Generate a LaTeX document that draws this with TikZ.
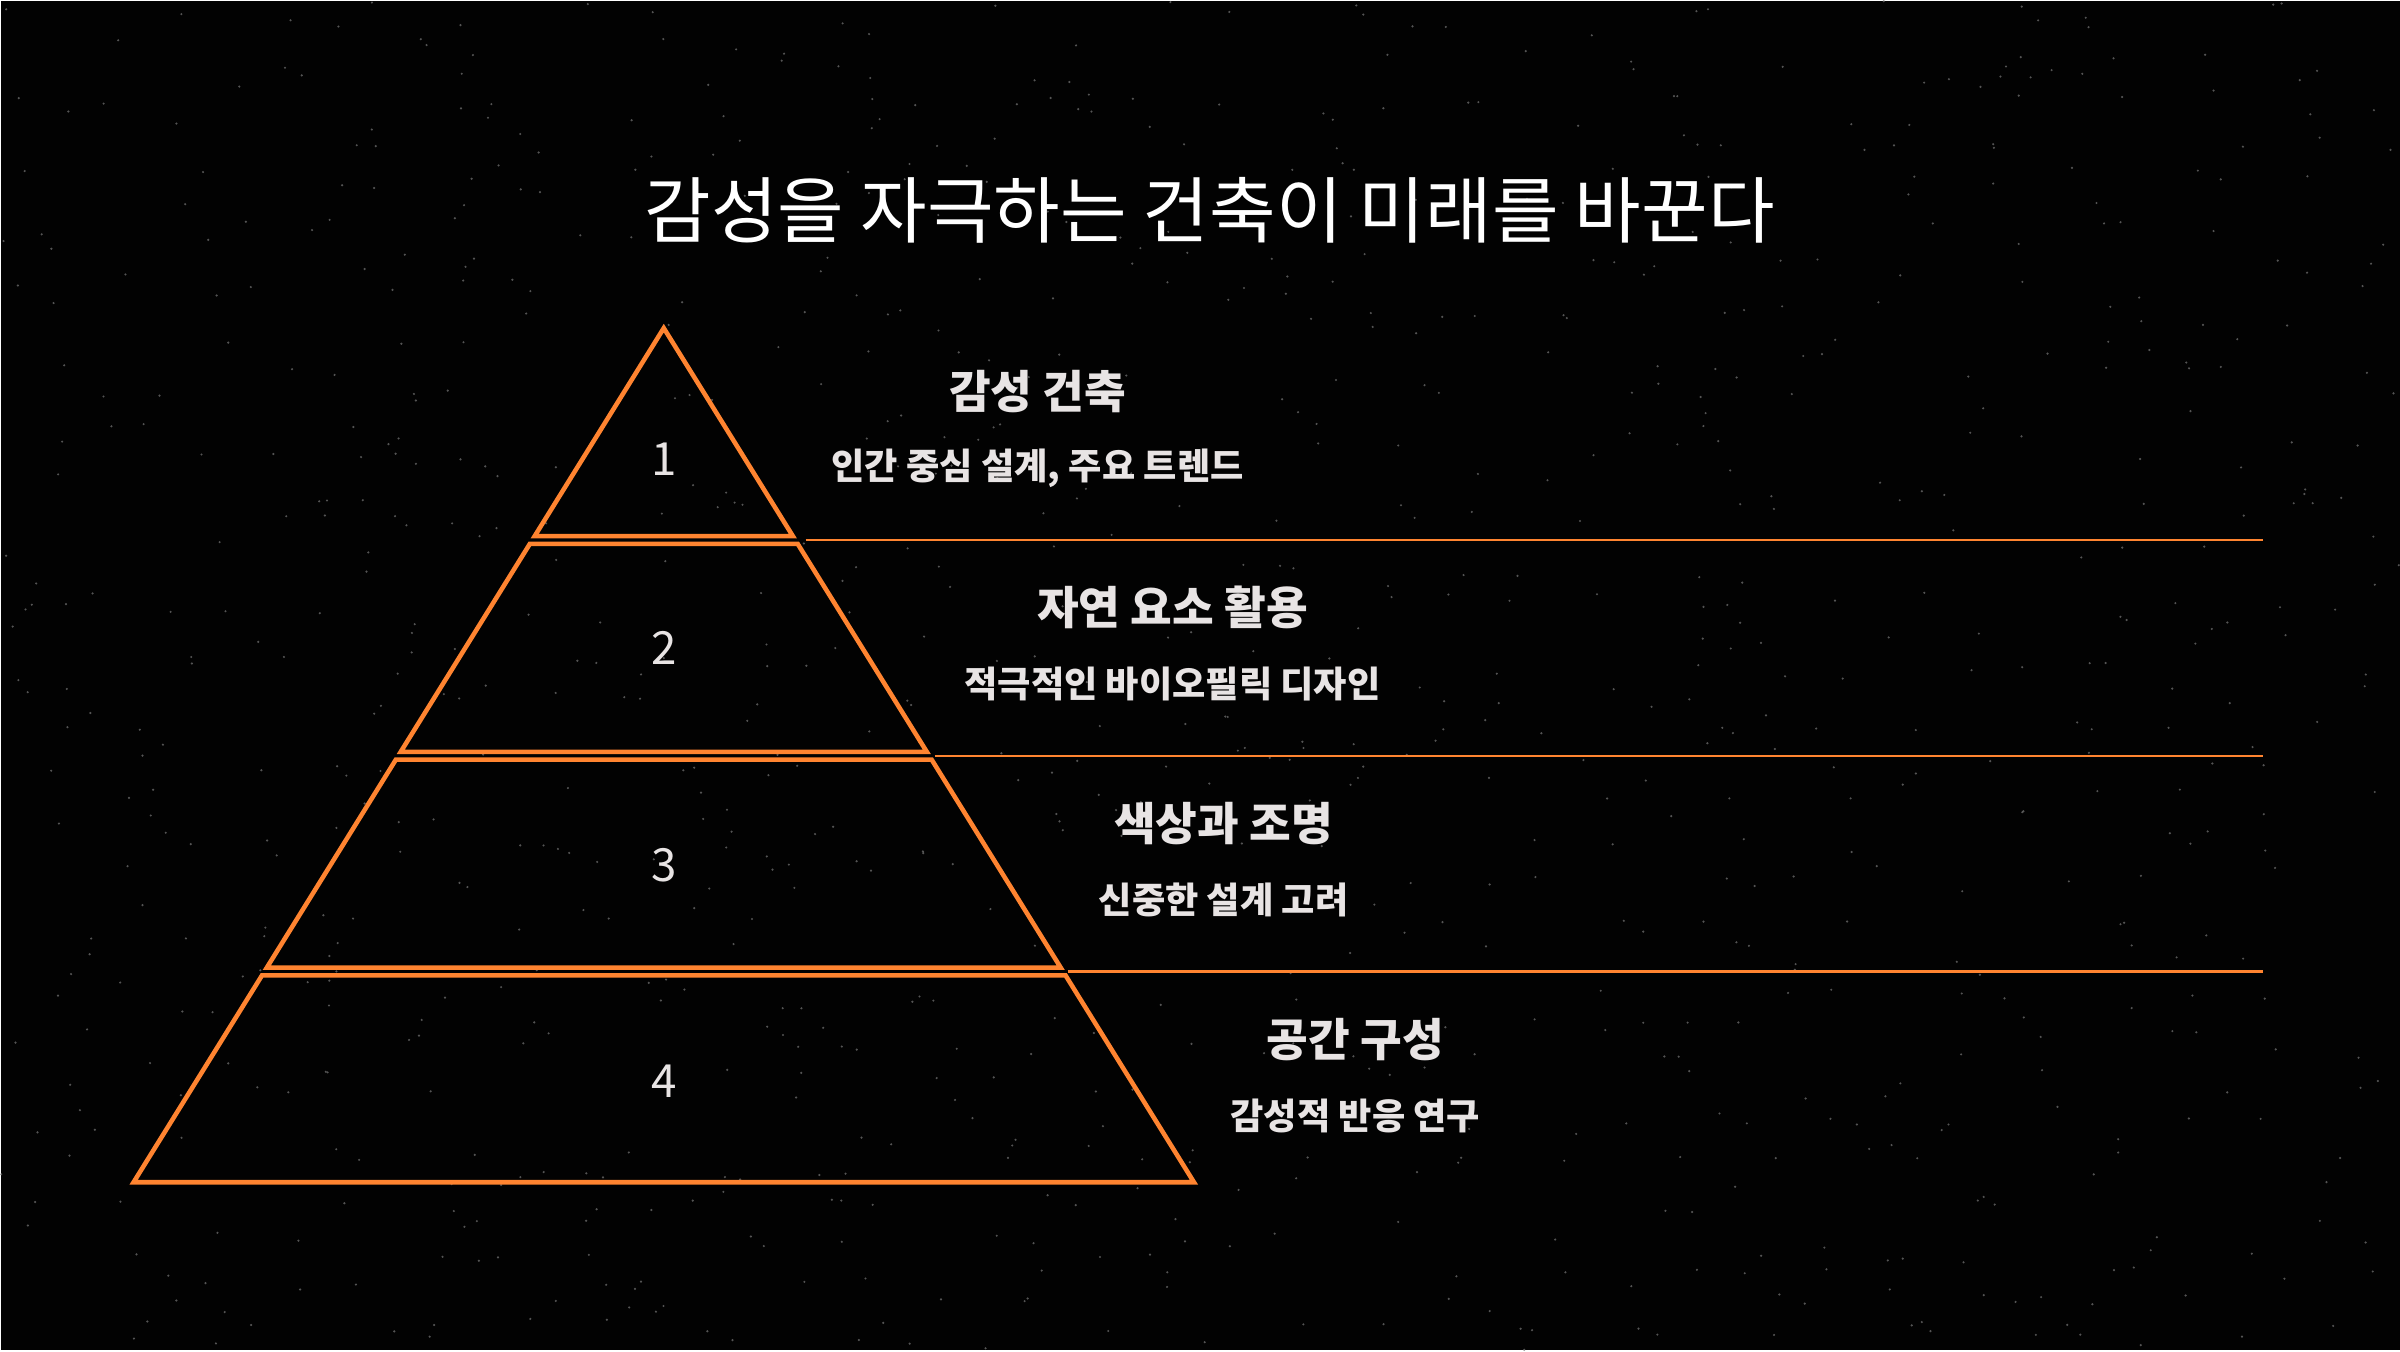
\documentclass[tikz,border=0pt]{standalone}
\usepackage{fontspec}
\usepackage{xcolor}
\setmainfont{Noto Sans CJK KR}
\newfontfamily\krfont{Noto Sans CJK KR}
\definecolor{bgblack}{RGB}{2, 2, 2}
\definecolor{tierorange}{RGB}{255, 132, 48}
\definecolor{textgray}{RGB}{232, 228, 228}
\definecolor{speckgray}{RGB}{120, 120, 120}

\tikzset{
    tier/.style={draw=tierorange, line width=1.3pt, line join=miter},
    divider/.style={draw=tierorange, line width=0.6pt},
    tiernum/.style={text=textgray, inner sep=0pt, font=\krfont\fontsize{13}{15}\selectfont},
    tierlabel/.style={text=textgray, inner sep=0pt, font=\krfont\bfseries\fontsize{12.9}{15}\selectfont},
    tiersub/.style={text=textgray, inner sep=0pt, font=\krfont\bfseries\fontsize{10.3}{12}\selectfont}
}

\begin{document}
\begin{tikzpicture}
        % background and specks
        \fill[bgblack] (0,0) rectangle (24,13.5);
        \pgfmathsetseed{7}
        \foreach \i in {1,...,1000} {
            \fill[speckgray,opacity=0.7] ({24*rnd},{13.5*rnd}) circle (0.012);
        }

        % title
        \node[white, inner sep=0pt, font=\krfont\fontsize{20.6}{24}\selectfont] (title) at (12.09,11.40) {감성을 자극하는 건축이 미래를 바꾼다};

        % pyramid corners
        \coordinate (apex) at (6.63,10.225);
        \coordinate (t1bl) at (5.338,8.143);  \coordinate (t1br) at (7.922,8.143);
        \coordinate (t2tl) at (5.290,8.066);  \coordinate (t2tr) at (7.970,8.066);
        \coordinate (t2bl) at (3.998,5.985);  \coordinate (t2br) at (9.262,5.985);
        \coordinate (t3tl) at (3.950,5.908);  \coordinate (t3tr) at (9.310,5.908);
        \coordinate (t3bl) at (2.659,3.827);  \coordinate (t3br) at (10.601,3.827);
        \coordinate (t4tl) at (2.611,3.750);  \coordinate (t4tr) at (10.649,3.750);
        \coordinate (t4bl) at (1.326,1.680);  \coordinate (t4br) at (11.934,1.680);

        % pyramid tiers
        \draw[tier] (apex) -- (t1br) -- (t1bl) -- cycle;
        \draw[tier] (t2tl) -- (t2tr) -- (t2br) -- (t2bl) -- cycle;
        \draw[tier] (t3tl) -- (t3tr) -- (t3br) -- (t3bl) -- cycle;
        \draw[tier] (t4tl) -- (t4tr) -- (t4br) -- (t4bl) -- cycle;

        % tier numbers
        \node[tiernum] (num1) at (6.63,8.91) {1};
        \node[tiernum] (num2) at (6.63,7.03) {2};
        \node[tiernum] (num3) at (6.63,4.85) {3};
        \node[tiernum] (num4) at (6.63,2.69) {4};

        % dividers
        \coordinate (div1) at (8.05,8.105);  \coordinate (div1end) at (22.63,8.105);
        \coordinate (div2) at (9.34,5.946);  \coordinate (div2end) at (22.63,5.946);
        \coordinate (div3) at (10.67,3.788); \coordinate (div3end) at (22.63,3.788);
        \draw[divider] (div1) -- (div1end);
        \draw[divider] (div2) -- (div2end);
        \draw[divider] (div3) -- (div3end);

        % tier texts
        \node[tierlabel] (label1) at (10.37,9.59) {감성 건축};
        \node[tiersub] (sub1) at (10.37,8.82) {인간 중심 설계, 주요 트렌드};

        \node[tierlabel] (label2) at (11.72,7.43) {자연 요소 활용};
        \node[tiersub] (sub2) at (11.72,6.66) {적극적인 바이오필릭 디자인};

        \node[tierlabel] (label3) at (12.23,5.27) {색상과 조명};
        \node[tiersub] (sub3) at (12.23,4.50) {신중한 설계 고려};

        \node[tierlabel] (label4) at (13.55,3.11) {공간 구성};
        \node[tiersub] (sub4) at (13.55,2.34) {감성적 반응 연구};
    \end{tikzpicture}
\end{document}
